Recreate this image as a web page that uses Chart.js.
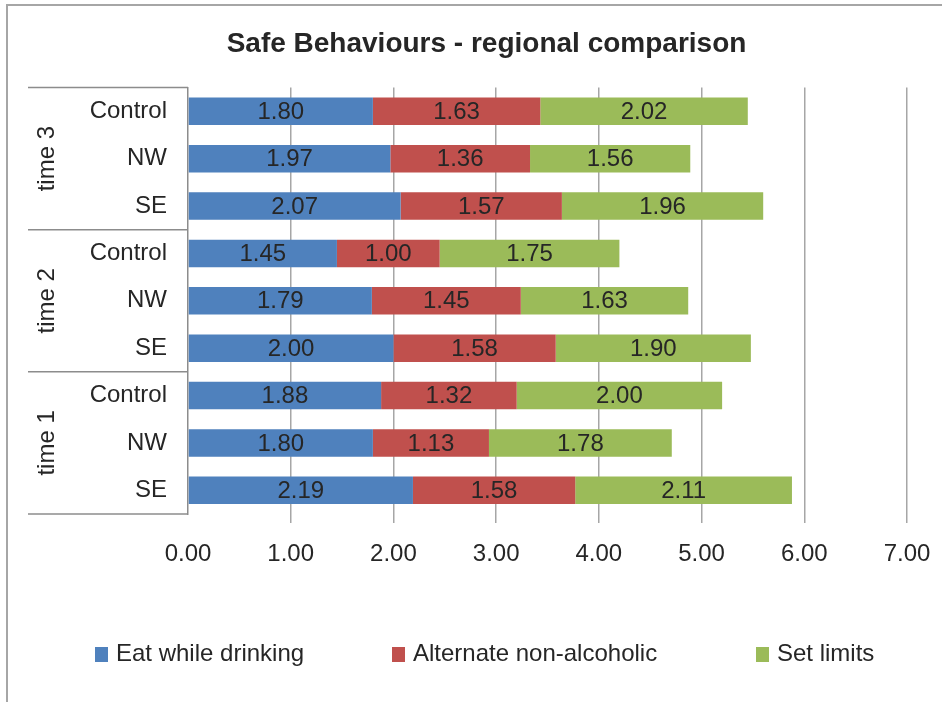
<!DOCTYPE html>
<html lang="en">
<head>
    <meta charset="UTF-8">
    <title>Safe Behaviours - regional comparison</title>
    <script src="https://cdn.jsdelivr.net/npm/chart.js"></script>
    <style>
        body { margin: 0; background: #fff; }
        #wrap { position: relative; width: 942px; height: 702px; }
        #legend { position: absolute; left: 0; top: 638px; width: 942px; height: 30px;
                  font: 24px "Liberation Sans", Arial, sans-serif; color: #262626; }
        #legend .item { position: absolute; top: 0; white-space: nowrap; line-height: 30px; }
        #legend .box { display: inline-block; width: 13px; height: 15px; margin-right: 8px; vertical-align: -1px; }
    </style>
</head>
<body>
    <div id="wrap">
        <canvas id="myChart" width="942" height="702"></canvas>
        <div id="legend"></div>
    </div>
    <script>
        // categories, top to bottom
        const regions = ['Control', 'NW', 'SE', 'Control', 'NW', 'SE', 'Control', 'NW', 'SE'];
        const groups = ['time 3', 'time 2', 'time 1'];
        // series values
        const eatWhileDrinking = [1.80, 1.97, 2.07, 1.45, 1.79, 2.00, 1.88, 1.80, 2.19];
        const alternateNonAlc = [1.63, 1.36, 1.57, 1.00, 1.45, 1.58, 1.32, 1.13, 1.58];
        const setLimits = [2.02, 1.56, 1.96, 1.75, 1.63, 1.90, 2.00, 1.78, 2.11];
        const xTicks = [0, 1, 2, 3, 4, 5, 6, 7];
        const seriesNames = ['Eat while drinking', 'Alternate non-alcoholic', 'Set limits'];
        const seriesColors = ['#4F81BD', '#C0504D', '#9BBB59'];

        const FONT = '"Liberation Sans", Arial, sans-serif';
        const TXT = '#262626';
        const LINE = '#8c8c8c';

        // outer frame + white bg
        const frame = {
            id: 'frame',
            beforeDraw(chart) {
                const ctx = chart.ctx;
                ctx.save();
                ctx.fillStyle = '#fff';
                ctx.fillRect(0, 0, chart.width, chart.height);
                ctx.strokeStyle = '#a6a6a6';
                ctx.lineWidth = 2;
                ctx.strokeRect(7, 5, 1200, 1200);
                ctx.restore();
            }
        };

        // values in the middle of every segment
        const barLabels = {
            id: 'barLabels',
            afterDatasetsDraw(chart) {
                const ctx = chart.ctx;
                ctx.save();
                ctx.font = '24px ' + FONT;
                ctx.fillStyle = TXT;
                ctx.textAlign = 'center';
                ctx.textBaseline = 'middle';
                chart.data.datasets.forEach(function (ds, i) {
                    chart.getDatasetMeta(i).data.forEach(function (bar, j) {
                        const p = bar.getProps(['x', 'y', 'base'], true);
                        ctx.fillText(ds.data[j].toFixed(2), (p.x + p.base) / 2, p.y + 1);
                    });
                });
                ctx.restore();
            }
        };

        // the time 1/2/3 boxes on the left
        const groupAxis = {
            id: 'groupAxis',
            afterDraw(chart) {
                const ctx = chart.ctx;
                const y = chart.scales.y;
                const area = chart.chartArea;
                const left = 28;
                ctx.save();
                ctx.strokeStyle = LINE;
                ctx.lineWidth = 1.5;
                const lines = [area.top, area.bottom];
                for (let k = 3; k < regions.length; k += 3) {
                    lines.push((y.getPixelForValue(k - 1) + y.getPixelForValue(k)) / 2);
                }
                lines.forEach(function (yy) {
                    ctx.beginPath();
                    ctx.moveTo(left, yy);
                    ctx.lineTo(area.left, yy);
                    ctx.stroke();
                });
                ctx.font = '24px ' + FONT;
                ctx.fillStyle = TXT;
                ctx.textAlign = 'center';
                ctx.textBaseline = 'middle';
                groups.forEach(function (g, i) {
                    const cy = (y.getPixelForValue(i * 3) + y.getPixelForValue(i * 3 + 2)) / 2;
                    ctx.save();
                    ctx.translate(47, cy);
                    ctx.rotate(-Math.PI / 2);
                    ctx.fillText(g, 0, 0);
                    ctx.restore();
                });
                ctx.restore();
            }
        };

        const ctx = document.getElementById('myChart');
        const mychart = new Chart(ctx, {
            type: 'bar',
            data: {
                labels: regions,
                datasets: [{
                    label: seriesNames[0],
                    data: eatWhileDrinking,
                    backgroundColor: seriesColors[0]
                }, {
                    label: seriesNames[1],
                    data: alternateNonAlc,
                    backgroundColor: seriesColors[1]
                }, {
                    label: seriesNames[2],
                    data: setLimits,
                    backgroundColor: seriesColors[2]
                }]
            },
            options: {
                indexAxis: 'y',
                responsive: false,
                animation: false,
                barPercentage: 0.58,
                categoryPercentage: 1,
                layout: {
                    padding: { left: 66, right: 35, top: 5, bottom: 139 }
                },
                scales: {
                    x: {
                        stacked: true,
                        min: 0,
                        max: 7,
                        afterBuildTicks: function (scale) {
                            scale.ticks = xTicks.map(function (v) { return { value: v }; });
                        },
                        afterFit: function (scale) {
                            scale.height = 49;
                            scale.paddingLeft = 0;
                            scale.paddingRight = 0;
                        },
                        border: { display: false },
                        grid: {
                            color: function (c) { return c.tick && c.tick.value === 0 ? 'rgba(0,0,0,0)' : '#a6a6a6'; },
                            lineWidth: 1.5,
                            tickLength: 9
                        },
                        ticks: {
                            padding: 17,
                            color: TXT,
                            font: { family: FONT, size: 24 },
                            callback: function (v) { return Number(v).toFixed(2); }
                        }
                    },
                    y: {
                        stacked: true,
                        afterFit: function (scale) { scale.width = 122; },
                        border: { display: true, color: LINE, width: 1.5 },
                        grid: { display: false, drawTicks: false },
                        ticks: {
                            padding: 21,
                            color: TXT,
                            font: { family: FONT, size: 24 }
                        }
                    }
                },
                plugins: {
                    title: {
                        display: true,
                        text: 'Safe Behaviours - regional comparison',
                        color: TXT,
                        font: { family: FONT, size: 28, weight: 'bold' },
                        padding: { top: 22, bottom: 27 }
                    },
                    legend: { display: false },
                    tooltip: { enabled: false }
                }
            },
            plugins: [frame, barLabels, groupAxis]
        });

        // legend below the chart
        const legendX = [95, 392, 756];
        seriesNames.forEach(function (name, i) {
            let item = document.createElement('span');
            item.className = 'item';
            item.style.left = legendX[i] + 'px';
            item.innerHTML = '<span class="box" style="background:' + seriesColors[i] + '"></span>' + name;
            document.getElementById('legend').appendChild(item);
        });
    </script>
</body>
</html>
